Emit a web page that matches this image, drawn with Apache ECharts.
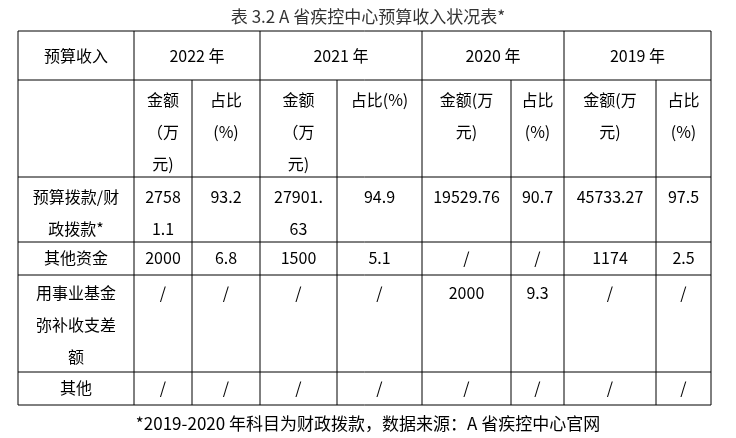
<!DOCTYPE html>
<html><head><meta charset="utf-8">
<script src="https://cdn.jsdelivr.net/npm/echarts@6/dist/echarts.min.js"></script>
<style>html,body{margin:0;padding:0;background:#fff}#c{width:736px;height:438px}</style>
</head><body><div id="c"></div>
<script>
const title = '表 3.2 A 省疾控中心预算收入状况表*';
const footnote = '*2019-2020 年科目为财政拨款，数据来源：A 省疾控中心官网';
const years = ['2022 年', '2021 年', '2020 年', '2019 年'];
const subHeaders = [['金额','（万','元)'],['占比','(%)'],['金额','（万','元)'],['占比(%)'],['金额(万','元)'],['占比','(%)'],['金额(万','元)'],['占比','(%)']];
const rowLabels = [['预算拨款/财','政拨款*'],['其他资金'],['用事业基金','弥补收支差','额'],['其他']];
const row1 = [['2758','1.1'],['93.2'],['27901.','63'],['94.9'],['19529.76'],['90.7'],['45733.27'],['97.5']];
const row2 = ['2000','6.8','1500','5.1','/','/','1174','2.5'];
const row3 = ['/','/','/','/','2000','9.3','/','/'];
const row4 = ['/','/','/','/','/','/','/','/'];

const xs = [18,134,192,260,337,422,511,564,656,711];
const ys = [31,80,177,242,275,372,405];
const lh = 32;
const font = '"Noto Sans CJK SC", "Liberation Serif", serif';
const els = [];
function line(x1,y1,x2,y2){els.push({type:'line',shape:{x1,y1,x2,y2},style:{stroke:'#000',lineWidth:1}});}
function text(t,x,y,size,color){els.push({type:'text',x,y,style:{text:t,fontSize:size||16,fontFamily:font,fill:color||'#000',align:'center',verticalAlign:'middle'}});}
ys.forEach(y=>line(xs[0],y,xs[9],y));
line(xs[0],ys[0],xs[0],ys[6]); line(xs[9],ys[0],xs[9],ys[6]);
[1,3,5,7].forEach(i=>line(xs[i],ys[0],xs[i],ys[6]));
[2,4,6,8].forEach(i=>line(xs[i],ys[1],xs[i],ys[6]));
text(title,368,17,17,'#333');
text('预算收入',(xs[0]+xs[1])/2,56);
years.forEach((y,i)=>text(y,(xs[1+2*i]+xs[3+2*i])/2,56));
function cellLines(arr,col,y0){arr.forEach((t,k)=>text(t,(xs[col]+xs[col+1])/2,y0+k*lh));}
subHeaders.forEach((a,i)=>cellLines(a,i+1,100));
cellLines(rowLabels[0],0,197);
row1.forEach((a,i)=>cellLines(a,i+1,197));
cellLines(rowLabels[1],0,258);
row2.forEach((t,i)=>cellLines([t],i+1,258));
cellLines(rowLabels[2],0,293);
row3.forEach((t,i)=>cellLines([t],i+1,293));
cellLines(rowLabels[3],0,388);
row4.forEach((t,i)=>cellLines([t],i+1,388));
text(footnote,368,424,17,'#000');
const chart = echarts.init(document.getElementById('c'));
chart.setOption({graphic:{elements:els}});
</script></body></html>
